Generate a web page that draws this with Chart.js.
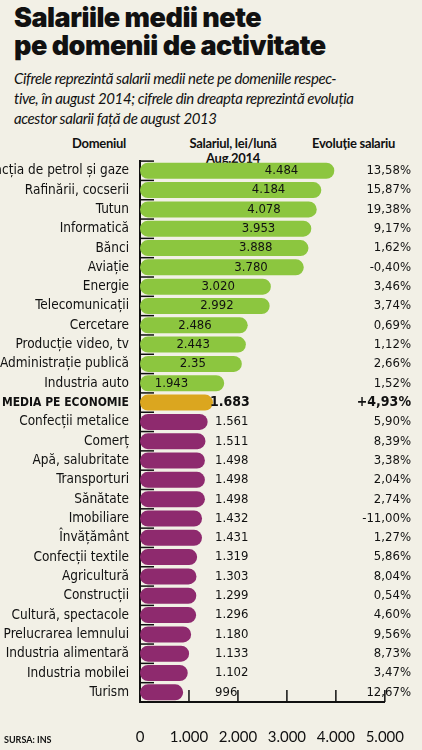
<!DOCTYPE html>
<html>
<head>
<meta charset="utf-8">
<script src="https://cdn.jsdelivr.net/npm/chart.js@4"></script>
<style>
body{margin:0;background:#f2f0e6;width:422px;height:750px;overflow:hidden;font-family:Lato,"Open Sans",sans-serif;color:#111;}
h1{margin:0;position:absolute;left:14px;top:4px;font-family:Inter,Roboto,sans-serif;font-weight:900;font-size:27px;line-height:28px;letter-spacing:-0.5px;}
.sub{position:absolute;left:14px;top:68px;width:410px;font-style:italic;font-size:15px;line-height:20px;letter-spacing:-0.4px;}
.h{position:absolute;font-weight:700;font-size:13px;line-height:15px;text-align:center;letter-spacing:-0.3px;}
#wrap{position:absolute;left:0;top:150px;width:422px;height:600px;}
.src{position:absolute;left:4px;top:734px;font-size:9px;font-weight:700;}
</style>
</head>
<body>
<h1>Salariile medii nete<br>pe domenii de activitate</h1>
<div class="sub">Cifrele reprezintă salarii medii nete pe domeniile respec-<br>tive, în august 2014; cifrele din dreapta reprezintă evoluția<br>acestor salarii față de august 2013</div>
<div class="h" style="left:72px;top:136px;">Domeniul</div>
<div class="h" style="left:178px;top:136px;width:110px;">Salariul, lei/lună<br>Aug.2014</div>
<div class="h" style="left:312px;top:136px;">Evoluție salariu</div>
<div id="wrap"><canvas id="c"></canvas></div>
<div class="src">SURSA: INS</div>
<script>
const domains = ["Extracția de petrol și gaze","Rafinării, cocserii","Tutun","Informatică","Bănci","Aviație","Energie","Telecomunicații","Cercetare","Producție video, tv","Administrație publică","Industria auto","MEDIA PE ECONOMIE","Confecții metalice","Comerț","Apă, salubritate","Transporturi","Sănătate","Imobiliare","Învățământ","Confecții textile","Agricultură","Construcții","Cultură, spectacole","Prelucrarea lemnului","Industria alimentară","Industria mobilei","Turism"];
const salaries = [4484,4184,4078,3953,3888,3780,3020,2992,2486,2443,2350,1943,1683,1561,1511,1498,1498,1498,1432,1431,1319,1303,1299,1296,1180,1133,1102,996];
const salaryLabels = ["4.484","4.184","4.078","3.953","3.888","3.780","3.020","2.992","2.486","2.443","2.35","1.943","1.683","1.561","1.511","1.498","1.498","1.498","1.432","1.431","1.319","1.303","1.299","1.296","1.180","1.133","1.102","996"];
const evolution = ["13,58%","15,87%","19,38%","9,17%","1,62%","-0,40%","3,46%","3,74%","0,69%","1,12%","2,66%","1,52%","+4,93%","5,90%","8,39%","3,38%","2,04%","2,74%","-11,00%","1,27%","5,86%","8,04%","0,54%","4,60%","9,56%","8,73%","3,47%","12,67%"];
const xTicks = [0,1000,2000,3000,4000,5000];
const avgIndex = domains.indexOf("MEDIA PE ECONOMIE");
const narrow = "'Liberation Sans Narrow', 'DejaVu Sans Condensed', sans-serif";

const colors = salaries.map((v,i)=> i<avgIndex ? "#8cc63f" : i===avgIndex ? "#dba61f" : "#8e2a6e");

const extras = {
    id:"extras",
    afterDatasetsDraw(chart){
        const ctx = chart.ctx;
        const x = chart.scales.x, y = chart.scales.y;
        const meta = chart.getDatasetMeta(0);
        ctx.save();
        ctx.textBaseline = "middle";
        meta.data.forEach((bar,i)=>{
            const bold = i===avgIndex;
            ctx.font = (bold?"bold 14px ":"13px ")+narrow;
            ctx.fillStyle = "#111";
            if(i<avgIndex){
                ctx.textAlign = "right";
                ctx.fillText(salaryLabels[i], bar.x-36, bar.y);
            }else{
                ctx.textAlign = "left";
                ctx.fillText(salaryLabels[i], bold ? 210 : 215, bar.y);
            }
            ctx.textAlign = "right";
            ctx.fillText(evolution[i], 411, bar.y);
        });
        ctx.strokeStyle = "#111";
        ctx.lineWidth = 1.5;
        const b = chart.chartArea.bottom;
        xTicks.forEach(t=>{
            if(t===0) return;
            const px = x.getPixelForValue(t);
            ctx.beginPath(); ctx.moveTo(px,b); ctx.lineTo(px,b-12); ctx.stroke();
        });
        const step = y.getPixelForValue(1)-y.getPixelForValue(0);
        for(let i=0;i<=domains.length;i++){
            const py = y.getPixelForValue(i)-step/2;
            ctx.beginPath(); ctx.moveTo(x.left,py); ctx.lineTo(x.left+14,py); ctx.stroke();
        }
        ctx.restore();
    }
};

new Chart(document.getElementById("c"),{
    type:"bar",
    data:{
        labels:domains,
        datasets:[{
            data:salaries,
            xAxisID:"xb",
            backgroundColor:colors,
            borderRadius:20,
            borderSkipped:false,
            barPercentage:0.9,
            categoryPercentage:0.92
        }]
    },
    options:{
        indexAxis:"y",
        responsive:true,
        maintainAspectRatio:false,
        animation:false,
        layout:{padding:{top:11,right:21,left:0,bottom:0}},
        plugins:{legend:{display:false},tooltip:{enabled:false}},
        scales:{
            // the infographic draws its bars shorter than its own axis
            xb:{min:0,max:5650,display:false},
            x:{
                min:0,max:5000,
                afterBuildTicks(s){ s.ticks = xTicks.map(v=>({value:v})); },
                afterFit(s){ s.height = 48; },
                border:{color:"#111",width:2},
                grid:{display:false},
                ticks:{
                    color:"#111",padding:18,
                    font:{size:15,family:"Lato"},
                    callback:v=> v===0 ? "0" : (v/1000).toFixed(3)
                }
            },
            y:{
                afterFit(s){ s.width = 140; },
                border:{color:"#111",width:2},
                grid:{display:false},
                ticks:{
                    color:"#111",padding:3,
                    font:ctx=>({size: ctx.index===avgIndex?12:13.5, weight: ctx.index===avgIndex?"bold":"normal", family:narrow})
                }
            }
        }
    },
    plugins:[extras]
});
</script>
</body>
</html>
